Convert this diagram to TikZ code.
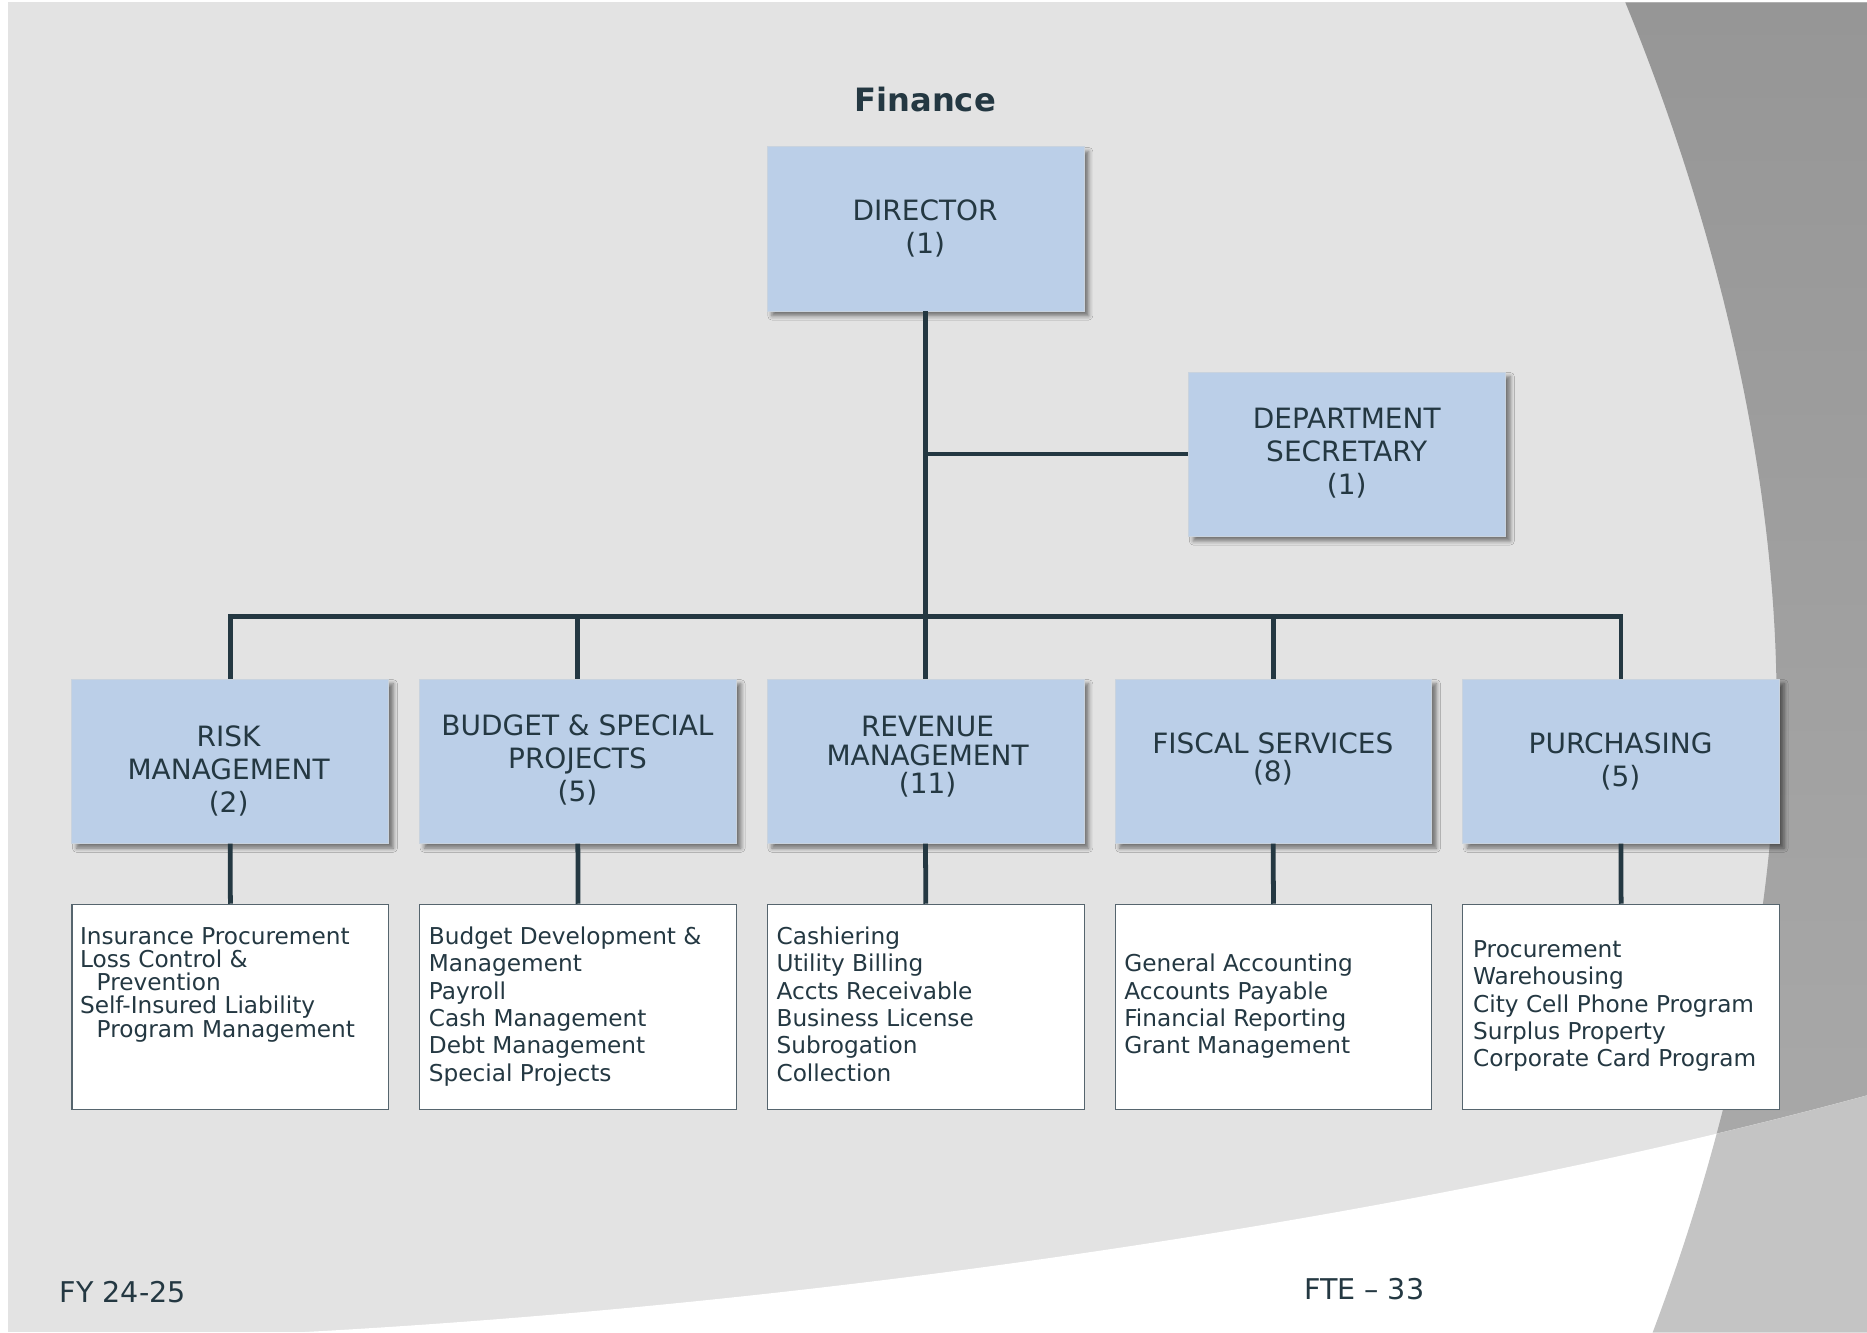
\documentclass[tikz,border=0pt]{standalone}
\usepackage{fontspec}
\setmainfont{DejaVu Sans}
\usetikzlibrary{shadows.blur}
\definecolor{ink}{HTML}{243842}
\definecolor{pagegray}{HTML}{E3E3E3}
\definecolor{bandtop}{HTML}{969696}
\definecolor{bandbot}{HTML}{ABABAB}
\definecolor{bandlow}{HTML}{C4C4C4}
\definecolor{boxblue}{HTML}{BBCFE8}
\definecolor{boxedge}{HTML}{C9D3DE}
\definecolor{listedge}{HTML}{56656E}
\begin{document}
\begin{tikzpicture}[x=1pt,y=-1pt,
  unit/.style={rectangle, fill=boxblue, draw=boxedge, line width=0.6pt,
    minimum width=266pt, minimum height=138pt, inner sep=0pt, anchor=north west,
    blur shadow={shadow xshift=4pt, shadow yshift=-4pt, shadow blur radius=3.5pt, shadow opacity=50}},
  duties/.style={rectangle, fill=white, draw=listedge, line width=1pt,
    minimum width=266pt, minimum height=172pt, inner sep=0pt, anchor=north west},
  ttl/.style={text=ink, align=center, font=\fontsize{23.5}{27.7}\selectfont, anchor=base, inner sep=0pt},
  ttltight/.style={ttl, font=\fontsize{23.5}{24}\selectfont},
  lst/.style={text=ink, align=left, font=\fontsize{19.5}{23}\selectfont, anchor=base west, inner sep=0pt},
  link/.style={draw=ink, line width=4pt}]
\useasboundingbox (0,0) rectangle (1568,1119);

% page background
\fill[white] (0,0) rectangle (1568,1119);
\fill[pagegray] (7,2) rectangle (1568,1119);
% curved band on the right
\shade[top color=bandtop, bottom color=bandbot]
  (1365,2) .. controls (1430,160) and (1490,370) .. (1492,580)
  .. controls (1494,770) and (1448,960) .. (1388,1119)
  -- (1568,1119) -- (1568,2) -- cycle;
% white swoosh at the bottom
\fill[white] (250,1119) .. controls (700,1095) and (1200,1020) .. (1568,920)
  -- (1568,1119) -- cycle;
\begin{scope}
  \clip (1365,2) .. controls (1430,160) and (1490,370) .. (1492,580)
    .. controls (1494,770) and (1448,960) .. (1388,1119)
    -- (1568,1119) -- (1568,2) -- cycle;
  \fill[bandlow] (250,1119) .. controls (700,1095) and (1200,1020) .. (1568,920)
    -- (1568,1119) -- cycle;
\end{scope}

% title
\node[text=ink, font=\fontsize{27}{32}\selectfont\bfseries, anchor=base, inner sep=0pt] (title) at (777,94) {Finance};

% unit boxes
\node[unit] (dir)   at (644,123) {};
\node[unit] (sec)   at (998,312) {};
\node[unit] (risk)  at (60,570) {};
\node[unit] (budg)  at (352,570) {};
\node[unit] (rev)   at (644,570) {};
\node[unit] (fisc)  at (936,570) {};
\node[unit] (purch) at (1228,570) {};

% duty boxes
\node[duties] (riskd)  at (60,759) {};
\node[duties] (budgd)  at (352,759) {};
\node[duties] (revd)   at (644,759) {};
\node[duties] (fiscd)  at (936,759) {};
\node[duties] (purchd) at (1228,759) {};

% reporting lines
\coordinate (bus) at (777,518);
\draw[link] (dir.south) -- (rev.north);
\draw[link] (dir.south |- sec.west) -- (sec.west);
\draw[link] (risk.north) -- (risk.north |- bus) -- (purch.north |- bus) -- (purch.north);
\draw[link] (budg.north) -- (budg.north |- bus);
\draw[link] (fisc.north) -- (fisc.north |- bus);
\draw[link] (risk.south) -- (riskd.north);
\draw[link] (budg.south) -- (budgd.north);
\draw[link] (rev.south) -- (revd.north);
\draw[link] (fisc.south) -- (fiscd.north);
\draw[link] (purch.south) -- (purchd.north);

% unit names (anchored at the baseline of the last line)
\node[ttl] (dir-t)   at (777,212.5)  {DIRECTOR\\(1)};
\node[ttl] (sec-t)   at (1131,415.5) {DEPARTMENT\\SECRETARY\\(1)};
\node[ttl] (risk-t)  at (192,682.5)  {RISK\\MANAGEMENT\\(2)};
\node[ttl] (budg-t)  at (485,673.5)  {BUDGET \& SPECIAL\\PROJECTS\\(5)};
\node[ttltight] (rev-t) at (779,666.5) {REVENUE\\MANAGEMENT\\(11)};
\node[ttltight] (fisc-t) at (1069,656.5) {FISCAL SERVICES\\(8)};
\node[ttl] (purch-t) at (1361,660.5) {PURCHASING\\(5)};

% duties (anchored at the baseline of the last line)
\node[lst, font=\fontsize{19.5}{19.5}\selectfont] (risk-l) at (67,871)
  {Insurance Procurement\\Loss Control \&\\\hspace*{14pt}Prevention\\Self-Insured Liability\\\hspace*{14pt}Program Management};
\node[lst] (budg-l) at (360,908)
  {Budget Development \&\\Management\\Payroll\\Cash Management\\Debt Management\\Special Projects};
\node[lst] (rev-l) at (652,908)
  {Cashiering\\Utility Billing\\Accts Receivable\\Business License\\Subrogation\\Collection};
\node[lst] (fisc-l) at (944,885)
  {General Accounting\\Accounts Payable\\Financial Reporting\\Grant Management};
\node[lst] (purch-l) at (1237,896)
  {Procurement\\Warehousing\\City Cell Phone Program\\Surplus Property\\Corporate Card Program};

% footer
\node[text=ink, font=\fontsize{24}{28}\selectfont, anchor=base west, inner sep=0pt] (fy) at (50,1094) {FY 24-25};
\node[text=ink, font=\fontsize{24}{28}\selectfont, anchor=base west, inner sep=0pt] (fte) at (1095,1091) {FTE – 33};
\end{tikzpicture}
\end{document}
